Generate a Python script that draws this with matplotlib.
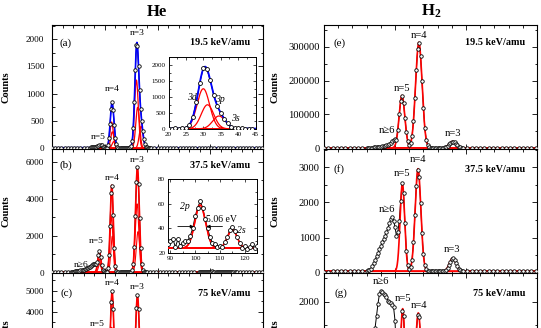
import numpy as np
import matplotlib
matplotlib.use("Agg")
import matplotlib.pyplot as plt
from matplotlib.ticker import MultipleLocator

plt.rcParams['font.family'] = ['Liberation Serif', 'DejaVu Serif']
plt.rcParams['mathtext.fontset'] = 'custom'
plt.rcParams['mathtext.rm'] = 'Liberation Serif'
plt.rcParams['mathtext.bf'] = 'Liberation Serif:bold'
plt.rcParams['mathtext.it'] = 'Liberation Serif:italic'

# ---------------------------------------------------------------------------
# Measured spectra: segments of (first channel, channel step, counts)
# ---------------------------------------------------------------------------
he_a_counts = [
    (-50, 3, [6, 7, 6, 8, 7, 8, 9, 8, 9, 10, 10, 11]),
    (-14, 1, [12, 14, 15, 17, 18, 20, 24, 32, 48, 62, 64, 50, 30, 18,
              12, 10, 12, 60, 195, 445, 725, 840, 695, 425, 195, 70, 25, 12,
              10, 9, 10, 8, 9, 8, 9, 8, 10, 9, 14, 36, 125, 370, 840, 1440,
              1900, 1870, 1510, 1060, 720, 500, 318, 170, 70, 28, 14, 10, 9, 8, 8]),
    (47, 3, [8, 7, 8, 9, 7, 8, 8, 7, 9, 8, 7, 8, 8, 7, 8, 9, 8, 7, 8, 8,
             7, 8, 7, 8, 9, 8, 7, 8, 8, 7, 8, 7, 8, 8, 7]),
]
he_b_counts = [
    (-50, 3, [15, 18, 20, 24, 28, 34]),
    (-32, 1, [40, 45, 52, 55, 62, 70, 80, 92, 104, 118, 132, 148, 165, 185,
              205, 230, 262, 290, 325, 360, 400, 440, 470, 490, 450, 560, 960,
              1150, 870, 430, 160, 70,
              45, 40, 60, 240, 950, 2550, 4300, 4700, 3100, 1340, 380, 90, 40,
              32, 30, 28, 27, 26, 28, 27, 26, 28, 29, 30, 35, 45, 130, 470,
              1400, 3080, 4900, 5700, 4800, 2960, 1340, 450, 125, 45, 30, 28, 27]),
    (43, 3, [27, 26, 28, 25, 27, 26, 29, 27, 25, 28, 26, 27, 28, 26, 27]),
    (89, 1, [27, 30, 31, 25, 31, 26, 28, 30, 30, 34, 40, 50, 57, 62, 57, 48,
             40, 33, 28, 27, 25, 26, 25, 29, 33, 39, 41, 38, 33, 28, 24, 26,
             23, 25, 27, 24, 26]),
    (128, 3, [25, 27, 24, 26, 25, 27, 26, 25]),
]
he_c_counts = [
    (-50, 3, [50, 55, 60, 70, 85, 110]),
    (-30, 1, [150, 180, 220, 270, 330, 400, 480, 570, 670, 780, 900, 1020,
              1140, 1260, 1380, 1480, 1550, 1580, 1560, 1500, 1420,
              1390, 1550, 1900, 2500, 3050, 2850, 1980, 1000, 420, 160,
              100, 150, 450, 1250, 2700, 4450, 5000, 4150, 2600, 1200, 430, 150, 80,
              70, 66, 64, 65, 63, 62, 64, 63, 65, 66,
              70, 90, 200, 570, 1420, 2780, 4200, 4800, 4150, 2800, 1460, 600,
              220, 95, 70, 65, 62]),
    (43, 3, [60, 61, 59, 60, 58, 60, 59, 58, 60, 59, 57, 58, 59, 60, 58, 57,
             59, 58, 57, 58, 56, 57, 58, 57, 56, 57, 58, 56, 57, 56, 55, 57,
             56, 55, 56, 55]),
]
h2_e_counts = [
    (-50, 3, [600, 650, 700, 750, 800, 850, 900, 1000, 1100, 1300]),
    (-20, 1, [1500, 1700, 1900, 2100, 2400, 2700, 3000, 3400, 3900, 4400,
              5000, 5800, 6700, 7800, 9300, 11000, 13500, 17000, 21500, 25000,
              27000, 26000, 55000, 100000, 141000, 155000, 134000, 90000, 48000,
              21000, 11000, 15000, 36000, 81000, 149000, 231000, 294000, 312000,
              273000, 198000, 120000, 60000, 25500, 9500, 3500, 1800, 1400, 1300,
              1200, 1200, 1100, 1200, 1100, 1300, 1800, 2800, 4800, 8000, 12200,
              16500, 19500, 19800, 17300, 13200, 8800, 5300, 3100, 2000, 1500]),
    (51, 3, [1200, 1100, 1000, 1000, 900, 900, 800, 800, 800, 700, 700, 700,
             600, 600, 600, 600, 500]),
]
h2_f_counts = [
    (-50, 3, [30, 32, 33, 35, 36, 38, 40, 42, 45, 52]),
    (-20, 1, [60, 65, 80, 110, 180, 270, 360, 460, 560, 660, 760, 860, 950,
              1050, 1150, 1270, 1400, 1520, 1580, 1480,
              1300, 1050, 1150, 1480, 2050, 2550, 2280, 1400, 620, 220, 110,
              150, 370, 860, 1640, 2480, 2930, 2720, 1990, 1140, 530, 210, 95,
              60, 50, 48, 45, 46, 44, 45, 43, 44, 42, 45, 50, 60, 85, 140, 220,
              315, 390, 405, 365, 280, 185, 115, 75, 55, 48]),
    (51, 3, [45, 44, 42, 42, 40, 40, 39, 38, 38, 37, 36, 36, 35, 35, 34, 34, 33]),
]
h2_g_counts = [
    (-50, 3, [40, 45, 50, 55, 62, 75, 95, 120]),
    (-25, 1, [150, 200, 260, 330, 420, 520, 640, 780, 930, 1090, 1260, 1450,
              1700, 1950, 2150, 2230, 2200, 2160, 2140, 2090, 2020, 1990, 1960,
              1920, 1880,
              1600, 900, 560, 640, 1250, 1790, 1700, 1060, 430, 140, 70, 100,
              200, 380, 810, 1340, 1720, 1680, 1240, 710, 320, 120, 60,
              50, 40, 36, 35, 34, 33, 34, 32, 33, 34, 35, 40, 50, 75, 115, 160,
              210, 245, 260, 230, 175, 120, 75, 50, 40, 35]),
    (51, 3, [33, 32, 32, 31, 31, 30, 30, 30, 29, 29, 29, 28, 28, 28, 28, 27, 27]),
]

# ---------------------------------------------------------------------------
# Fitted Gaussian components: (centre, amplitude, sigma) and flat background
# ---------------------------------------------------------------------------
he_a_peaks = [(-4.5, 55, 1.8),
              (6.5, 480, 1.6), (7.2, 300, 1.6), (8.5, 120, 1.6),
              (30.0, 1250, 1.8), (31.2, 750, 1.8), (34.5, 400, 1.8)]
he_a_bg = 8

fwhm_2p = 5.06
he_b_peaks = [(-5.4, 700, 1.4), (-4.6, 450, 1.4),
              (6.3, 3000, 1.4), (7.2, 1950, 1.4),
              (30.6, 3700, 1.7), (31.6, 2200, 1.7),
              (102.0, 35, fwhm_2p / 2.3548), (115.0, 15, 1.9)]
he_b_bg = 24

he_c_peaks = [(-5.0, 2000, 1.7), (-4.0, 1100, 1.7),
              (6.6, 3200, 1.7), (7.6, 1900, 1.7),
              (30.5, 3000, 1.8), (31.8, 2000, 1.8)]
he_c_bg = 60

h2_e_peaks = [(4.9, 155000, 2.0), (16.8, 312000, 2.3), (40.6, 19000, 2.5)]
h2_e_bg = 1000
h2_f_peaks = [(5.2, 2500, 1.6), (16.2, 2920, 2.0), (40.6, 370, 2.3)]
h2_f_bg = 40
h2_g_peaks = [(5.4, 1820, 1.5), (16.4, 1730, 1.9), (40.6, 230, 2.3)]
h2_g_bg = 30

energies = ['19.5 keV/amu', '37.5 keV/amu', '75 keV/amu']


def spectrum(segments):
    xs, ys = [], []
    for start, step, values in segments:
        xs.append(start + step * np.arange(len(values)))
        ys.append(np.asarray(values, dtype=float))
    return np.concatenate(xs), np.concatenate(ys)


def gauss(x, c, a, s):
    return a * np.exp(-0.5 * ((x - c) / s) ** 2)


def draw_data(ax, segments, ms=2.5):
    x, y = spectrum(segments)
    ax.plot(x, y, '-', color='k', lw=0.7, zorder=2)
    ax.plot(x, y, 'o', ms=ms, mfc='white', mec='k', mew=0.6, zorder=4)


def draw_fit(ax, peaks, bg, xlim, comp_color='red', sum_color=None,
             comp_lw=0.9, sum_lw=1.2, comp_on_bg=True):
    xf = np.linspace(xlim[0], xlim[1], 4000)
    total = np.full_like(xf, float(bg))
    for c, a, s in peaks:
        g = gauss(xf, c, a, s)
        total += g
        ax.plot(xf, g + (bg if comp_on_bg else 0), color=comp_color,
                lw=comp_lw, zorder=3)
    if sum_color is not None:
        ax.plot(xf, total, color=sum_color, lw=sum_lw, zorder=3)


W, H = 541, 328
fig = plt.figure(figsize=(W / 100, H / 100), dpi=100)

LEFT = (52 / W, 211 / W)
RIGHT = (324 / W, 213 / W)
ROW_TOP = [25, 149, 273]
ROW_H = 124
HE_XLIM = (-50, 150)
H2_XLIM = (-50, 100)


def panel(col, row):
    x0, w = col
    top = ROW_TOP[row]
    return fig.add_axes([x0, 1 - (top + ROW_H) / H, w, ROW_H / H])


def style_main(ax, xlim, ylim, ymajor, yminor, labelsize, pad, ylab_x):
    ax.set_xlim(xlim)
    ax.set_ylim(ylim)
    ax.xaxis.set_major_locator(MultipleLocator(50))
    ax.xaxis.set_minor_locator(MultipleLocator(10))
    ax.yaxis.set_major_locator(MultipleLocator(ymajor))
    ax.yaxis.set_minor_locator(MultipleLocator(yminor))
    ax.ticklabel_format(axis='y', style='plain', useOffset=False)
    ax.tick_params(which='both', direction='in', top=True, right=True,
                   labelbottom=False, width=0.6)
    ax.tick_params(which='major', length=3.5)
    ax.tick_params(which='minor', length=1.8)
    ax.tick_params(axis='y', labelsize=labelsize, pad=pad)
    for s in ax.spines.values():
        s.set_linewidth(0.8)
    ax.set_ylabel('Counts', fontweight='bold', fontsize=7.5)
    ax.yaxis.set_label_coords(ylab_x, 0.5)


def tags(ax, tag, energy, ty, tx, ex):
    ax.text(tx, ty, tag, transform=ax.transAxes, ha='left', va='center',
            fontsize=8)
    ax.text(ex, ty, energy, transform=ax.transAxes, ha='right', va='center',
            fontsize=7.3, fontweight='bold')


def nlabels(ax, items, fs):
    for x, y, s in items:
        ax.text(x, y, s, ha='center', va='center', fontsize=fs, zorder=5)


# ---------------------------- He column ------------------------------------
ax_a = panel(LEFT, 0)
draw_data(ax_a, he_a_counts)
draw_fit(ax_a, he_a_peaks, he_a_bg, HE_XLIM, comp_color='red',
         sum_color='blue', comp_on_bg=False)
style_main(ax_a, HE_XLIM, (-15, 2260), 500, 250, 6.6, 5.5, -0.199)
tags(ax_a, '(a)', energies[0], 0.857, 0.035, 0.938)
nlabels(ax_a, [(30.3, 2110, 'n=3'), (6.6, 1083, 'n=4'), (-6.1, 213, 'n=5')], 6.8)

ax_b = panel(LEFT, 1)
draw_data(ax_b, he_b_counts)
draw_fit(ax_b, he_b_peaks, he_b_bg, HE_XLIM, comp_color='red',
         sum_color='red', comp_lw=0.8, sum_lw=1.2)
style_main(ax_b, HE_XLIM, (-20, 6690), 2000, 1000, 6.6, 5.5, -0.199)
tags(ax_b, '(b)', energies[1], 0.868, 0.035, 0.938)
nlabels(ax_b, [(30.9, 6092, 'n=3'), (6.6, 5103, 'n=4'), (-8.5, 1700, 'n=5'),
               (-22, 430, 'n\u22656')], 6.8)

ax_c = panel(LEFT, 2)
draw_data(ax_c, he_c_counts)
draw_fit(ax_c, he_c_peaks, he_c_bg, HE_XLIM, comp_color='red',
         sum_color='red', comp_lw=0.8, sum_lw=1.2)
style_main(ax_c, HE_XLIM, (-60, 5845), 1000, 500, 6.6, 5.5, -0.199)
tags(ax_c, '(c)', energies[2], 0.836, 0.04, 0.938)
nlabels(ax_c, [(30.3, 5162, 'n=3'), (7.2, 5352, 'n=4'), (-6.7, 3400, 'n=5')], 6.8)

# Inset: n=3 sub-shells at 19.5 keV/amu
ax_ia = fig.add_axes([168.5 / W, 1 - 129.3 / H, 87 / W, 72.6 / H])
draw_data(ax_ia, he_a_counts, ms=2.8)
draw_fit(ax_ia, he_a_peaks, he_a_bg, (15, 50), comp_color='red',
         sum_color='blue', comp_lw=0.9, sum_lw=1.3, comp_on_bg=False)
ax_ia.set_xlim(20, 45)
ax_ia.set_ylim(-15, 2250)
ax_ia.xaxis.set_major_locator(MultipleLocator(5))
ax_ia.xaxis.set_minor_locator(MultipleLocator(2.5))
ax_ia.yaxis.set_major_locator(MultipleLocator(500))
ax_ia.yaxis.set_minor_locator(MultipleLocator(250))
ax_ia.tick_params(which='both', direction='in', top=True, right=True,
                  labelsize=5, pad=2, width=0.5)
ax_ia.tick_params(which='major', length=2.5)
ax_ia.tick_params(which='minor', length=1.3)
for s in ax_ia.spines.values():
    s.set_linewidth(0.7)
for x, y, s in [(26.7, 992, '3d'), (34.8, 930, '3p'), (39.1, 310, '3s')]:
    ax_ia.text(x, y, s, ha='center', va='center', fontsize=7,
               style='italic', zorder=5)

# Inset: n=2 region at 37.5 keV/amu
ax_ib = fig.add_axes([168 / W, 1 - 253 / H, 89 / W, 73.7 / H])
draw_data(ax_ib, he_b_counts, ms=2.8)
draw_fit(ax_ib, he_b_peaks, he_b_bg, (80, 130), comp_color='red',
         sum_color='red', comp_lw=0.8, sum_lw=1.2)
ax_ib.set_xlim(89, 125)
ax_ib.set_ylim(20, 80)
ax_ib.xaxis.set_major_locator(MultipleLocator(10))
ax_ib.xaxis.set_minor_locator(MultipleLocator(5))
ax_ib.yaxis.set_major_locator(MultipleLocator(20))
ax_ib.yaxis.set_minor_locator(MultipleLocator(10))
ax_ib.tick_params(which='both', direction='in', top=True, right=True,
                  labelsize=5, pad=2, width=0.5)
ax_ib.tick_params(which='major', length=2.5)
ax_ib.tick_params(which='minor', length=1.3)
for s in ax_ib.spines.values():
    s.set_linewidth(0.7)
c2p, a2p = he_b_peaks[6][0], he_b_peaks[6][1]
half = he_b_bg + a2p / 2
for tip, tail in [(c2p - fwhm_2p / 2, c2p - fwhm_2p / 2 - 6.5),
                  (c2p + fwhm_2p / 2, c2p + fwhm_2p / 2 + 6.5)]:
    ax_ib.annotate('', xy=(tip, half), xytext=(tail, half),
                   arrowprops=dict(arrowstyle='-|>', lw=0.6, color='k',
                                   mutation_scale=5, shrinkA=0, shrinkB=0),
                   zorder=5)
ax_ib.text(104.2, 47.5, f'{fwhm_2p:.2f} eV', ha='left', va='center',
           fontsize=7, zorder=5)
ax_ib.text(95.8, 57.5, '2p', ha='center', va='center', fontsize=7,
           style='italic', zorder=5)
ax_ib.text(118.6, 38.5, '2s', ha='center', va='center', fontsize=7,
           style='italic', zorder=5)

# ---------------------------- H2 column ------------------------------------
ax_e = panel(RIGHT, 0)
draw_data(ax_e, h2_e_counts)
draw_fit(ax_e, h2_e_peaks, h2_e_bg, H2_XLIM, comp_color='red', comp_lw=1.2)
style_main(ax_e, H2_XLIM, (-2000, 364000), 100000, 50000, 7.6, 3, -0.2066)
tags(ax_e, '(e)', energies[0], 0.857, 0.044, 0.944)
nlabels(ax_e, [(17.1, 334000, 'n=4'), (4.7, 177000, 'n=5'),
               (-5.4, 52000, 'n\u22656'), (40.6, 44000, 'n=3')], 7.6)

ax_f = panel(RIGHT, 1)
draw_data(ax_f, h2_f_counts)
draw_fit(ax_f, h2_f_peaks, h2_f_bg, H2_XLIM, comp_color='red', comp_lw=1.2)
style_main(ax_f, H2_XLIM, (-10, 3520), 1000, 500, 7.6, 3, -0.2066)
tags(ax_f, '(f)', energies[1], 0.836, 0.044, 0.944)
nlabels(ax_f, [(16.0, 3211, 'n=4'), (5.1, 2832, 'n=5'),
               (-5.9, 1806, 'n\u22656'), (40.3, 647, 'n=3')], 7.6)

ax_g = panel(RIGHT, 2)
draw_data(ax_g, h2_g_counts)
draw_fit(ax_g, h2_g_peaks, h2_g_bg, H2_XLIM, comp_color='red', comp_lw=1.2)
style_main(ax_g, H2_XLIM, (-10, 2600), 1000, 500, 7.6, 3, -0.2066)
tags(ax_g, '(g)', energies[2], 0.836, 0.05, 0.944)
nlabels(ax_g, [(-9.9, 2419, 'n\u22656'), (5.4, 2071, 'n=5'),
               (17.1, 1910, 'n=4')], 7.6)

# Column titles
fig.text(157 / W, 1 - 15.5 / H, 'He', ha='center', va='baseline',
         fontsize=12, fontweight='bold')
fig.text(431 / W, 1 - 15.5 / H, r'$\mathbf{H_2}$', ha='center', va='baseline',
         fontsize=12)

fig.savefig('out.png', dpi=100)
